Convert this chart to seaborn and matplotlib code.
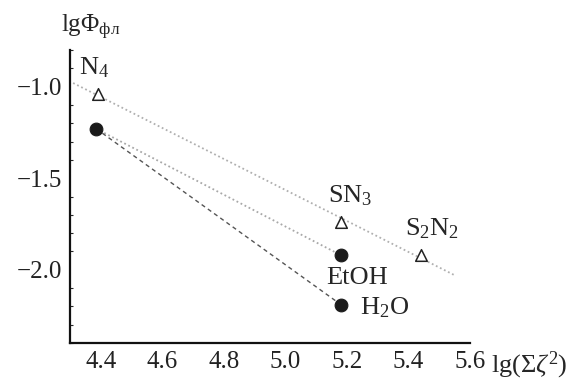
import matplotlib
matplotlib.use("Agg")
import matplotlib.pyplot as plt
import seaborn as sns
import pandas as pd
from matplotlib.ticker import MultipleLocator

# points
tri_x = [4.39, 5.18, 5.44]
tri_y = [-1.04, -1.74, -1.92]
tri_names = ["N$_4$", "SN$_3$", "S$_2$N$_2$"]

dot_x = [4.385, 5.18, 5.18]
dot_y = [-1.23, -1.92, -2.19]
dot_names = ["", "EtOH", "H$_2$O"]

# guide lines
fit_x = [4.31, 5.55]
fit_y = [-0.98, -2.03]
etoh_x = [4.385, 5.18]
etoh_y = [-1.23, -1.92]
h2o_x = [4.385, 5.18]
h2o_y = [-1.23, -2.19]

x_ticks = [4.4, 4.6, 4.8, 5.0, 5.2, 5.4, 5.6]
y_ticks = [-1.0, -1.5, -2.0]

sns.set_style("white")
plt.rcParams["font.family"] = ["Liberation Serif", "DejaVu Serif"]
plt.rcParams["mathtext.fontset"] = "custom"
plt.rcParams["mathtext.rm"] = "Liberation Serif"
plt.rcParams["mathtext.it"] = "Liberation Serif:italic"
plt.rcParams["mathtext.bf"] = "Liberation Serif:bold"

fig = plt.figure(figsize=(5.74, 3.82), dpi=100)
ax = fig.add_axes([0.122, 0.102, 0.697, 0.767])

sns.lineplot(x=fit_x, y=fit_y, ax=ax, color="#b0b0b0", lw=1.3, linestyle=(0, (1, 1.5)))
sns.lineplot(x=etoh_x, y=etoh_y, ax=ax, color="#a8a8a8", lw=1.3, linestyle=(0, (1, 1.5)))
sns.lineplot(x=h2o_x, y=h2o_y, ax=ax, color="#555555", lw=1.0, linestyle=(0, (3, 2.5)))

tri = pd.DataFrame({"x": tri_x, "y": tri_y})
dots = pd.DataFrame({"x": dot_x, "y": dot_y})
sns.scatterplot(data=tri, x="x", y="y", ax=ax, marker="^", s=70,
                facecolor="white", edgecolor="#222222", linewidth=1.1, zorder=3)
sns.scatterplot(data=dots, x="x", y="y", ax=ax, marker="o", s=85,
                color="#1a1a1a", edgecolor="#1a1a1a", zorder=3)

fs = 18
lfs = 19
ax.text(4.377, -0.965, tri_names[0], fontsize=lfs, ha="center", va="bottom")
ax.text(5.21, -1.665, tri_names[1], fontsize=lfs, ha="center", va="bottom")
ax.text(5.476, -1.845, tri_names[2], fontsize=lfs, ha="center", va="bottom")
ax.text(5.232, -1.985, dot_names[1], fontsize=lfs, ha="center", va="top")
ax.text(5.242, -2.205, dot_names[2], fontsize=lfs, ha="left", va="center")

ax.set_xlim(4.30, 5.60)
ax.set_ylim(-2.40, -0.80)
ax.set_xticks(x_ticks)
ax.set_yticks(y_ticks)
ax.set_xticklabels([f"{v:.1f}" for v in x_ticks])
ax.set_yticklabels([f"\u2212{abs(v):.1f}" for v in y_ticks])
ax.yaxis.set_minor_locator(MultipleLocator(0.1))
ax.tick_params(axis="both", which="major", direction="in", length=3, width=1,
               labelsize=fs, pad=6, colors="#222222")
ax.tick_params(axis="y", which="minor", direction="in", length=2, width=0.8, left=True)
ax.set_xlabel("")
ax.set_ylabel("")
for side in ["top", "right"]:
    ax.spines[side].set_visible(False)
for side in ["left", "bottom"]:
    ax.spines[side].set_color("#111111")
    ax.spines[side].set_linewidth(1.6)

fig.text(0.106, 0.928, r"lg$\mathrm{\Phi}_{\mathrm{фл}}$", fontsize=fs, ha="left", va="center")
fig.text(0.855, 0.043, r"lg($\mathrm{\Sigma}\zeta^{2}$)", fontsize=19, ha="left", va="center")

fig.savefig("out.png", dpi=100, facecolor="white")
